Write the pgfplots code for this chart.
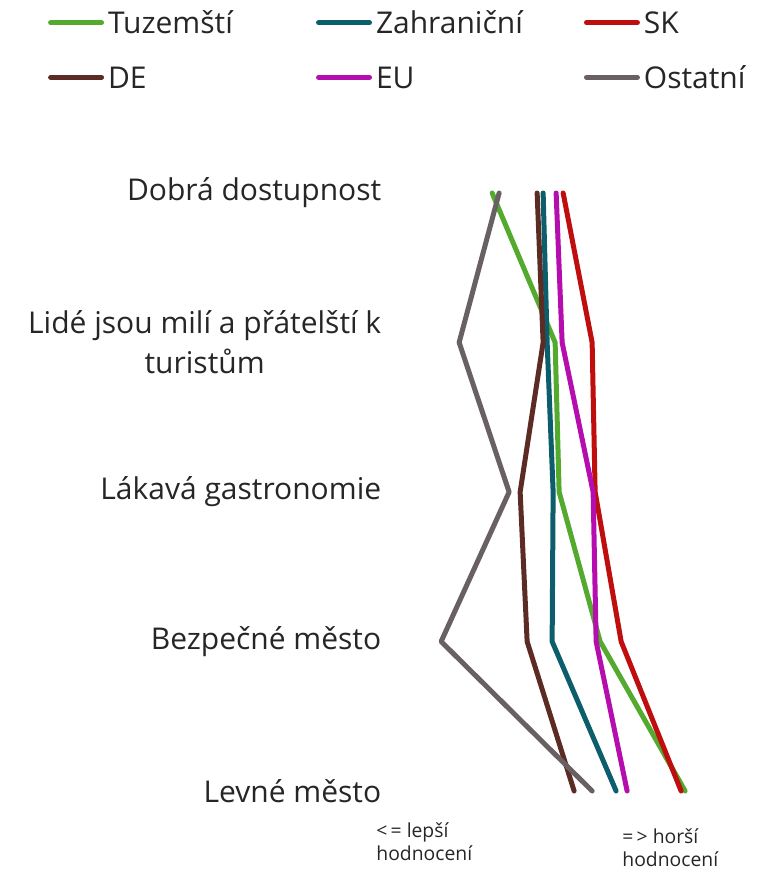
\documentclass[border=0pt]{standalone}
\usepackage{pgfplots}
\pgfplotsset{compat=1.18}
\usepackage{fontspec}
\setmainfont{Open Sans}
\definecolor{cTuz}{RGB}{84,170,46}
\definecolor{cZah}{RGB}{12,94,108}
\definecolor{cSK}{RGB}{190,14,14}
\definecolor{cDE}{RGB}{92,44,36}
\definecolor{cEU}{RGB}{182,14,174}
\definecolor{cOst}{RGB}{104,96,98}
\begin{document}
\begin{tikzpicture}
\begin{axis}[
  scale only axis,
  width=575.25pt, height=653.25pt,
  xmin=0, xmax=767, ymin=0, ymax=871,
  y dir=reverse,
  clip=false,
  axis line style={draw=none},
  major tick length=0pt,
  xtick=\empty,
  ytick={193,342.5,492,641.5,791},
  yticklabels={Dobrá dostupnost,{Lidé jsou milí a přátelští k\\turistům},Lákavá gastronomie,Bezpečné město,Levné město},
  yticklabel style={anchor=east, align=center, inner xsep=0pt, xshift=286pt,
    font=\fontsize{22.5}{30}\selectfont, text=black!85},
  every axis plot/.append style={line width=3.75pt, line join=round, line cap=round},
  legend columns=3,
  legend cell align=left,
  legend image code/.code={\draw[#1, line cap=round] (1.9pt,0pt) -- (40.1pt,0pt);},
  legend style={draw=none, fill=none, at={(axis cs:48,5)}, anchor=north west,
    inner sep=0pt, outer sep=0pt, column sep=0pt, row sep=14.5pt,
    /tikz/every odd column/.append style={column sep=3pt},
    /tikz/column 2/.append style={nodes={text width=156pt}},
    /tikz/column 4/.append style={nodes={text width=156pt}},
    nodes={inner xsep=0pt, inner ysep=0pt, text height=21.5pt, text depth=5pt,
      font=\fontsize{22.5}{27}\selectfont, text=black!85}},
]
\addplot[cTuz] coordinates {(492,193) (555,342.5) (559,492) (600,641.5) (685,791)};
\addlegendentry{Tuzemští}
\addplot[cZah] coordinates {(543,193) (547,342.5) (553,492) (552,641.5) (616,791)};
\addlegendentry{Zahraniční}
\addplot[cSK] coordinates {(563,193) (592,342.5) (595,492) (621,641.5) (681,791)};
\addlegendentry{SK}
\addplot[cDE] coordinates {(537,193) (543,342.5) (520,492) (527,641.5) (574,791)};
\addlegendentry{DE}
\addplot[cEU] coordinates {(556,193) (562,342.5) (593,492) (596,641.5) (627,791)};
\addlegendentry{EU}
\addplot[cOst] coordinates {(499,193) (459,342.5) (509,492) (441,641.5) (592,791)};
\addlegendentry{Ostatní}
\path (rel axis cs:0,0) rectangle (rel axis cs:1,1);
\node[anchor=base west, inner sep=0pt, font=\fontsize{14.5}{17}\selectfont, text=black!85] at (axis cs:376,837) {<\,= lepší};
\node[anchor=base west, inner sep=0pt, font=\fontsize{14.5}{17}\selectfont, text=black!85] at (axis cs:376,860) {hodnocení};
\node[anchor=base west, inner sep=0pt, font=\fontsize{14.5}{17}\selectfont, text=black!85] at (axis cs:622,843) {=\,> horší};
\node[anchor=base west, inner sep=0pt, font=\fontsize{14.5}{17}\selectfont, text=black!85] at (axis cs:622,866) {hodnocení};
\end{axis}
\end{tikzpicture}
\end{document}
